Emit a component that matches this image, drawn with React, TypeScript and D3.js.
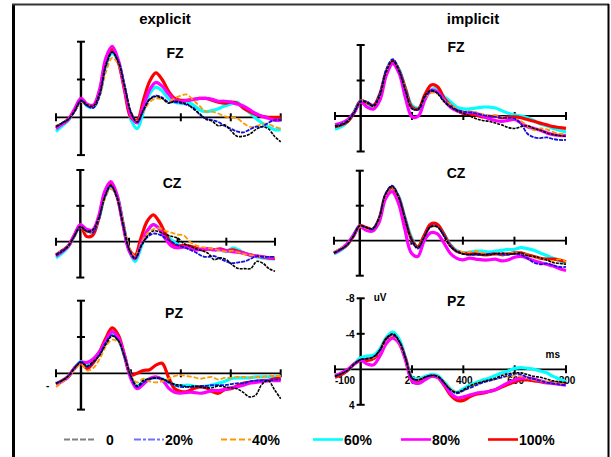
import React, { useEffect, useRef } from 'react';
import * as d3 from 'd3';

// time points (ms)
const times = [-100, -75, -50, -25, 0, 25, 50, 75, 100, 125, 150, 175, 200, 225, 250, 275, 300, 325, 350, 375, 400, 425, 450, 475, 500, 525, 550, 575, 600, 625, 650, 675, 700, 725, 750, 775, 800];
const conditions = ['0', '20%', '40%', '60%', '80%', '100%'];
const yTicks = [-8, -4, 4];
const xTicks = [-100, 200, 400, 600, 800];
const xTickLabels = ['-100', '200', '400', '600', '800'];
const yTickLabels = ['-8', '-4', '4'];

// explicit FZ (uV)
const exFz0 = [1.0, 0.6, 0.2, -0.7, -1.8, -1.3, -1.2, -2.6, -5.6, -6.9, -5.8, -3.2, -0.5, 0.5, -0.8, -1.9, -2.2, -2.0, -1.5, -1.7, -1.6, -1.4, -0.9, -0.4, 0.2, 0.4, 0.9, 0.8, 1.4, 2.0, 2.0, 1.8, 1.3, 1.0, 1.2, 2.0, 2.6];
const exFz20 = [1.0, 0.6, 0.2, -0.6, -1.7, -1.2, -1.0, -2.3, -5.4, -6.9, -5.9, -3.4, -0.6, 0.5, -0.7, -1.9, -2.3, -2.1, -1.6, -1.6, -1.5, -1.3, -1.0, -0.3, 0.1, 0.3, 0.5, 0.9, 1.2, 1.5, 1.6, 1.3, 1.0, 1.0, 0.6, 0.3, 0.3];
const exFz40 = [0.9, 0.6, 0.2, -0.6, -1.6, -1.3, -1.1, -2.2, -4.8, -6.3, -5.6, -3.3, -0.6, 0.4, -0.6, -1.6, -2.0, -1.9, -1.7, -2.0, -2.3, -2.4, -1.8, -1.2, -0.6, -0.6, -0.4, -0.1, 0.0, 0.1, 0.6, 1.0, 1.0, 0.7, 0.7, 1.0, 1.2];
const exFz60 = [1.5, 0.9, 0.3, -0.8, -1.9, -1.2, -1.1, -2.6, -5.6, -6.8, -5.9, -3.0, 0.2, 1.2, -0.6, -2.5, -3.2, -2.8, -2.0, -1.6, -1.5, -1.6, -1.3, -0.8, -0.6, -0.7, -0.9, -1.2, -1.4, -1.6, -1.0, -0.5, 0.1, 0.6, 1.0, 1.3, 1.3];
const exFz80 = [1.2, 0.7, 0.2, -0.9, -2.0, -1.4, -1.3, -3.0, -6.3, -7.5, -6.0, -3.0, -0.2, 0.6, -1.2, -2.9, -3.7, -3.3, -2.5, -1.8, -1.7, -1.8, -1.9, -2.0, -2.0, -1.9, -1.7, -1.7, -1.6, -1.4, -1.2, -0.8, -0.4, -0.1, 0.1, 0.3, 0.3];
const exFz100 = [1.0, 0.7, 0.2, -0.8, -1.9, -1.3, -1.2, -2.8, -6.0, -7.2, -5.8, -2.8, 0.0, 0.3, -1.8, -3.8, -4.7, -4.0, -2.8, -2.0, -1.8, -1.8, -1.9, -2.0, -2.0, -1.8, -1.6, -1.5, -1.6, -1.5, -1.0, -0.6, -0.3, -0.1, 0.0, 0.0, 0.0];

// implicit FZ
const imFz0 = [1.2, 1.0, 0.6, -0.4, -1.6, -1.5, -1.1, -2.3, -5.0, -6.2, -5.0, -2.8, -0.8, -0.8, -2.3, -2.9, -2.5, -1.6, -1.0, -0.6, -0.3, 0.0, 0.3, 0.5, 0.6, 0.8, 1.0, 1.3, 1.4, 1.2, 1.1, 1.4, 1.6, 1.9, 2.1, 2.2, 2.3];
const imFz20 = [1.1, 0.9, 0.5, -0.5, -1.7, -1.6, -1.2, -2.6, -5.3, -6.4, -5.2, -2.9, -0.9, -0.7, -2.1, -2.8, -2.6, -1.7, -1.1, -0.7, -0.5, -0.4, -0.3, -0.1, 0.0, 0.1, 0.2, 0.2, 0.3, 0.9, 2.0, 2.4, 2.5, 2.4, 2.6, 2.7, 2.7];
const imFz40 = [1.1, 0.9, 0.5, -0.5, -1.7, -1.5, -1.1, -2.4, -5.1, -6.3, -5.2, -3.0, -0.9, -0.7, -2.0, -2.6, -2.5, -1.8, -1.3, -0.8, -0.5, -0.5, -0.4, -0.2, -0.1, 0.0, 0.1, 0.2, 0.3, 0.6, 1.1, 1.6, 1.4, 1.5, 1.8, 2.0, 2.0];
const imFz60 = [1.5, 1.2, 0.6, -0.5, -1.7, -1.4, -1.0, -2.2, -4.9, -6.1, -5.2, -3.1, -1.2, -0.9, -2.0, -3.0, -3.0, -2.2, -1.6, -1.0, -0.8, -0.8, -0.9, -1.0, -1.0, -0.9, -0.6, -0.3, -0.1, 0.0, 0.2, 0.5, 0.9, 1.1, 1.4, 1.6, 1.8];
const imFz80 = [1.0, 0.8, 0.4, -0.4, -1.6, -1.0, -0.8, -1.8, -4.6, -5.9, -4.8, -2.0, 0.1, 0.0, -1.8, -2.9, -2.7, -1.8, -1.0, -0.6, -0.4, -0.4, -0.3, 0.0, 0.3, 0.5, 0.6, 0.5, 0.4, 0.8, 1.2, 1.4, 1.6, 1.9, 2.1, 2.2, 2.2];
const imFz100 = [1.2, 1.0, 0.6, -0.4, -1.7, -1.5, -1.2, -2.5, -5.0, -6.2, -5.1, -3.0, -1.0, -0.8, -2.4, -3.5, -3.3, -2.0, -1.2, -0.6, -0.3, -0.2, -0.1, 0.1, 0.1, 0.0, 0.2, 0.1, 0.1, 0.2, 0.4, 0.6, 0.8, 1.0, 1.2, 1.3, 1.4];

// explicit CZ
const exCz0 = [1.5, 1.1, 0.5, -0.6, -1.7, -1.2, -1.3, -2.6, -5.0, -6.3, -5.0, -2.0, 0.8, 1.9, 0.5, -0.6, -1.2, -1.1, -0.8, -0.6, -0.4, 0.2, 0.5, 0.8, 1.0, 1.3, 2.0, 1.8, 2.0, 2.6, 3.0, 3.0, 3.0, 2.2, 2.4, 3.0, 3.3];
const exCz20 = [1.4, 1.0, 0.5, -0.6, -1.6, -1.2, -1.0, -2.4, -4.9, -6.2, -5.0, -2.0, 0.8, 1.8, 0.4, -0.5, -0.9, -0.8, -0.4, 0.0, 0.4, 0.6, 0.9, 1.2, 1.6, 1.7, 1.6, 1.9, 2.2, 2.4, 2.3, 2.2, 1.9, 1.6, 1.7, 1.7, 1.7];
const exCz40 = [1.4, 1.0, 0.5, -0.5, -1.6, -1.1, -1.0, -2.3, -4.7, -5.9, -5.0, -2.3, 0.6, 1.6, 0.2, -0.9, -1.4, -1.5, -1.2, -1.0, -0.8, -0.7, 0.0, 0.4, 0.6, 0.7, 0.8, 1.0, 1.1, 1.0, 1.2, 1.4, 1.5, 1.6, 1.7, 1.7, 1.7];
const exCz60 = [1.8, 1.3, 0.6, -0.6, -1.8, -1.3, -1.2, -2.5, -5.0, -6.2, -5.2, -2.2, 0.9, 2.2, 0.6, -1.2, -1.9, -1.5, -0.8, -0.2, 0.3, 0.5, 0.6, 0.8, 0.9, 0.8, 0.9, 0.9, 1.1, 0.7, 0.9, 1.3, 1.5, 1.7, 1.8, 1.9, 1.9];
const exCz80 = [1.6, 1.1, 0.5, -0.7, -1.9, -1.4, -1.3, -2.8, -5.6, -6.7, -5.3, -2.0, 1.0, 1.9, 0.2, -1.2, -1.9, -1.4, -0.3, 0.5, 0.7, 0.6, 0.7, 0.9, 0.8, 0.8, 0.9, 0.9, 1.0, 1.1, 1.2, 1.3, 1.5, 1.6, 1.7, 1.8, 1.8];
const exCz100 = [1.5, 1.0, 0.5, -0.7, -1.8, -0.6, -0.7, -2.5, -5.4, -6.4, -5.1, -2.0, 0.8, 1.5, -0.5, -2.3, -3.0, -2.2, -0.9, 0.2, 0.5, 0.4, 0.5, 0.7, 0.9, 0.8, 0.9, 0.8, 1.0, 0.9, 1.1, 1.3, 1.5, 1.6, 1.7, 1.8, 1.9];

// implicit CZ
const imCz0 = [1.4, 1.0, 0.5, -0.5, -1.7, -1.5, -1.4, -2.6, -5.3, -6.2, -5.0, -2.5, -0.2, 0.8, -0.4, -1.6, -1.6, -0.6, 0.6, 1.2, 1.5, 1.6, 1.5, 1.6, 1.6, 1.5, 1.4, 1.5, 1.5, 1.4, 1.7, 1.8, 2.0, 2.2, 2.5, 2.6, 2.7];
const imCz20 = [1.4, 1.0, 0.5, -0.5, -1.7, -1.5, -1.3, -2.6, -5.4, -6.3, -5.1, -2.6, -0.1, 0.9, -0.4, -1.6, -1.6, -0.7, 0.5, 1.2, 1.5, 1.6, 1.6, 1.6, 1.5, 1.5, 1.6, 1.6, 1.5, 1.6, 2.0, 2.5, 2.7, 2.6, 2.8, 3.0, 3.0];
const imCz40 = [1.3, 0.9, 0.5, -0.5, -1.6, -1.4, -1.3, -2.5, -5.2, -6.1, -5.0, -2.5, -0.1, 0.8, -0.4, -1.5, -1.6, -0.7, 0.5, 1.1, 1.3, 1.3, 1.2, 1.4, 1.5, 1.6, 1.7, 1.5, 1.4, 1.5, 1.6, 1.9, 2.0, 2.2, 2.3, 2.1, 2.4];
const imCz60 = [1.5, 1.1, 0.5, -0.6, -1.7, -1.4, -1.3, -2.5, -5.1, -6.0, -5.1, -2.7, -0.4, 0.7, -0.6, -1.8, -1.8, -0.9, 0.4, 1.1, 1.4, 1.3, 1.2, 1.2, 1.3, 1.2, 1.1, 1.0, 1.0, 0.8, 0.9, 1.1, 1.4, 1.7, 2.0, 2.3, 2.6];
const imCz80 = [1.4, 1.0, 0.4, -0.6, -1.6, -1.2, -1.1, -2.1, -4.8, -5.6, -4.3, -1.3, 1.4, 1.8, 0.0, -0.9, -0.8, 0.2, 1.4, 2.0, 2.2, 2.0, 2.1, 2.2, 2.2, 2.1, 2.3, 2.2, 1.9, 1.8, 2.0, 2.3, 2.5, 2.7, 2.9, 3.2, 3.4];
const imCz100 = [1.4, 1.0, 0.5, -0.5, -1.7, -1.5, -1.3, -2.5, -5.2, -6.1, -5.0, -2.5, -0.2, 0.7, -0.6, -1.9, -1.9, -0.8, 0.5, 1.2, 1.4, 1.5, 1.5, 1.6, 1.6, 1.5, 1.6, 1.5, 1.4, 1.4, 1.6, 1.8, 2.0, 2.1, 2.1, 2.2, 2.4];

// explicit PZ
const exPz0 = [1.1, 0.8, 0.3, -0.6, -1.2, -0.8, -1.3, -2.0, -3.2, -4.1, -3.6, -1.8, 0.3, 1.4, 0.8, 0.6, 0.5, 0.6, 0.9, 1.2, 1.3, 1.5, 1.4, 1.5, 1.6, 1.6, 1.4, 1.5, 1.6, 1.7, 2.1, 2.6, 2.4, 1.2, 0.8, 1.8, 2.8];
const exPz20 = [1.1, 0.8, 0.3, -0.6, -1.3, -0.7, -1.2, -2.1, -3.4, -4.2, -3.6, -1.8, 0.4, 1.5, 1.0, 0.6, 0.5, 0.6, 1.0, 1.3, 1.5, 1.5, 1.5, 1.4, 1.4, 1.3, 1.3, 1.3, 1.2, 1.1, 1.1, 0.9, 0.8, 0.8, 0.8, 0.7, 0.7];
const exPz40 = [1.5, 1.0, 0.4, -0.4, -1.0, -0.3, -0.6, -1.6, -3.0, -3.7, -3.4, -1.8, 0.3, 1.0, 0.6, 0.9, 1.0, 0.9, 0.6, 0.3, 0.2, 0.3, 0.4, 0.6, 0.5, 0.4, 0.7, 0.5, 0.5, 0.4, 0.4, 0.5, 0.4, 0.4, 0.3, 0.3, 0.3];
const exPz60 = [1.1, 0.8, 0.3, -0.6, -1.3, -0.9, -1.5, -2.3, -3.5, -4.3, -3.7, -1.8, 0.4, 1.4, 0.9, 0.6, 0.5, 0.6, 1.0, 1.3, 1.4, 1.3, 1.4, 1.5, 1.4, 1.3, 1.1, 0.9, 0.6, 0.5, 0.5, 0.5, 0.4, 0.4, 0.4, 0.4, 0.3];
const exPz80 = [1.2, 0.9, 0.4, -0.6, -1.2, -1.2, -1.6, -2.4, -3.6, -4.6, -3.9, -1.9, 0.6, 1.7, 1.2, 0.6, 0.4, 0.7, 1.6, 2.1, 2.2, 2.1, 2.1, 2.2, 2.1, 1.9, 1.9, 1.8, 1.6, 1.5, 1.3, 1.1, 1.0, 0.9, 0.8, 0.8, 0.8];
const exPz100 = [1.2, 0.8, 0.3, -0.6, -1.1, -0.5, -1.2, -2.4, -3.9, -5.0, -4.2, -1.9, 0.2, 0.0, -0.3, -0.4, -0.9, -1.1, 0.4, 1.7, 2.0, 2.0, 1.7, 1.5, 1.6, 2.0, 2.2, 1.8, 1.7, 1.4, 1.1, 1.0, 0.9, 0.8, 0.8, 0.6, 0.5];

// implicit PZ
const imPz0 = [0.8, 0.5, 0.1, -0.6, -1.1, -1.2, -1.4, -2.2, -3.5, -4.0, -3.2, -1.2, 1.0, 1.2, 0.9, 0.7, 0.8, 1.5, 2.3, 2.6, 2.3, 1.9, 1.6, 1.4, 1.2, 1.0, 0.7, 0.5, 0.4, 0.4, 0.6, 0.8, 0.9, 1.1, 1.3, 1.4, 1.5];
const imPz20 = [0.8, 0.5, 0.1, -0.6, -1.1, -1.2, -1.4, -2.1, -3.4, -3.9, -3.1, -1.2, 1.0, 1.2, 0.9, 0.7, 0.8, 1.5, 2.3, 2.7, 2.4, 2.1, 1.8, 1.5, 1.3, 1.1, 0.9, 0.7, 0.5, 0.6, 0.9, 1.1, 1.3, 1.5, 1.6, 1.7, 1.8];
const imPz40 = [0.8, 0.5, 0.1, -0.6, -1.1, -1.2, -1.3, -2.0, -3.3, -3.8, -3.0, -1.1, 1.0, 1.2, 0.9, 0.7, 0.8, 1.4, 2.2, 2.6, 2.4, 2.0, 1.7, 1.4, 1.3, 1.1, 0.9, 0.8, 0.7, 0.8, 1.0, 1.2, 1.3, 1.4, 1.5, 1.6, 1.6];
const imPz60 = [0.9, 0.5, 0.1, -0.6, -1.3, -1.5, -1.6, -2.3, -3.6, -4.2, -3.4, -1.3, 0.9, 1.1, 0.8, 0.6, 0.7, 1.4, 2.2, 2.6, 2.2, 1.8, 1.5, 1.2, 1.0, 0.7, 0.4, 0.2, -0.1, -0.2, -0.1, 0.0, 0.2, 0.4, 0.8, 1.1, 1.4];
const imPz80 = [0.7, 0.4, 0.0, -0.6, -1.0, -0.6, -0.5, -1.5, -2.9, -3.5, -2.9, -1.0, 1.3, 1.6, 1.2, 0.8, 0.9, 1.7, 2.7, 3.2, 3.1, 2.9, 2.7, 2.6, 2.5, 2.3, 1.9, 1.5, 1.2, 1.0, 1.0, 1.1, 1.3, 1.5, 1.6, 1.7, 1.8];
const imPz100 = [0.9, 0.6, 0.1, -0.6, -1.0, -1.0, -1.2, -2.0, -3.4, -3.8, -3.0, -1.2, 1.1, 1.3, 1.0, 0.8, 0.9, 1.8, 2.9, 3.5, 3.5, 3.1, 2.8, 2.7, 2.5, 2.3, 2.0, 1.7, 1.4, 1.2, 1.2, 1.3, 1.4, 1.5, 1.5, 1.6, 1.6];

const panels = [
  { label: 'FZ', series: [exFz0, exFz20, exFz40, exFz60, exFz80, exFz100], x0: 56, x1: 280.7, top: 41.7, zero: 117.3, lx: 175, ly: 58, labels: false },
  { label: 'FZ', series: [imFz0, imFz20, imFz40, imFz60, imFz80, imFz100], x0: 335, x1: 566, top: 45, zero: 116, lx: 456, ly: 52, labels: false },
  { label: 'CZ', series: [exCz0, exCz20, exCz40, exCz60, exCz80, exCz100], x0: 56, x1: 275, top: 170, zero: 241.7, lx: 172, ly: 188, labels: false },
  { label: 'CZ', series: [imCz0, imCz20, imCz40, imCz60, imCz80, imCz100], x0: 334, x1: 566, top: 170.7, zero: 240.7, lx: 456, ly: 178, labels: false },
  { label: 'PZ', series: [exPz0, exPz20, exPz40, exPz60, exPz80, exPz100], x0: 56, x1: 280.7, top: 300.7, zero: 373.3, lx: 174, ly: 318, labels: false },
  { label: 'PZ', series: [imPz0, imPz20, imPz40, imPz60, imPz80, imPz100], x0: 335, x1: 566, top: 298.3, zero: 369.3, lx: 456, ly: 306, labels: true },
];

const colors = ['#000000', '#1010e0', '#ff9900', '#00ffff', '#ff00ff', '#ff0000'];
const widths = [1.6, 1.8, 1.8, 3.2, 3.2, 3.2];
const dashes = ['3,1', '4,1', '5,2', null, null, null];
const drawOrder = [3, 5, 4, 2, 1, 0];
const legendColors = ['#808080', '#7070ff', '#ff9900', '#00ffff', '#ff00ff', '#ff0000'];
const legendDash = ['6,2', '7,2,3,2', '6,3', null, null, null];
const font = '"Liberation Sans", Arial, sans-serif';

export default function App() {
  const ref = useRef<SVGSVGElement>(null);

  useEffect(() => {
    const svg = d3.select(ref.current);
    svg.selectAll('*').remove();

    // frame
    svg.append('line').attr('x1', 13.5).attr('x2', 13.5).attr('y1', 4).attr('y2', 457)
      .attr('stroke', '#000').attr('stroke-width', 3);
    svg.append('line').attr('x1', 12).attr('x2', 609).attr('y1', 4.5).attr('y2', 4.5)
      .attr('stroke', '#333').attr('stroke-width', 2);
    svg.append('line').attr('x1', 608.5).attr('x2', 608.5).attr('y1', 4).attr('y2', 457)
      .attr('stroke', '#000').attr('stroke-width', 2);

    // column titles
    const titles = svg.append('g').attr('font-family', font).attr('font-weight', 'bold')
      .attr('font-size', 15).attr('text-anchor', 'middle');
    titles.append('text').attr('x', 165).attr('y', 24).text('explicit');
    titles.append('text').attr('x', 473).attr('y', 24).text('implicit');

    panels.forEach(p => {
      const x = d3.scaleLinear().domain([-100, 800]).range([p.x0, p.x1]);
      const y = d3.scaleLinear().domain([-8, 0]).range([p.top, p.zero]);
      const g = svg.append('g');

      // axes
      g.append('line').attr('x1', x(-100)).attr('x2', x(800)).attr('y1', y(0)).attr('y2', y(0))
        .attr('stroke', '#000').attr('stroke-width', 1.8);
      g.selectAll('.xt').data(xTicks).enter().append('line')
        .attr('x1', d => x(d)).attr('x2', d => x(d))
        .attr('y1', y(0) - 4).attr('y2', y(0) + 4)
        .attr('stroke', '#000').attr('stroke-width', 2);
      g.append('line').attr('x1', x(0)).attr('x2', x(0)).attr('y1', y(-8)).attr('y2', y(4))
        .attr('stroke', '#000').attr('stroke-width', 2.4);
      g.selectAll('.yt').data(yTicks).enter().append('line')
        .attr('x1', x(0) - 4).attr('x2', x(0) + 4)
        .attr('y1', d => y(d)).attr('y2', d => y(d))
        .attr('stroke', '#000').attr('stroke-width', 2);

      if (p.labels) {
        const lg = g.append('g').attr('font-family', font).attr('font-weight', 'bold').attr('font-size', 10);
        lg.selectAll('.yl').data(yTicks).enter().append('text')
          .attr('x', x(0) - 6).attr('y', d => y(d) + 4).attr('text-anchor', 'end')
          .text((d, i) => yTickLabels[i]);
        lg.selectAll('.xl').data(xTicks).enter().append('text')
          .attr('x', (d, i) => x(d) + (i === 0 ? 10 : 1)).attr('y', y(0) + 15).attr('text-anchor', 'middle')
          .text((d, i) => xTickLabels[i]);
        lg.append('text').attr('x', x(0) + 13).attr('y', y(-8) + 3).text('uV');
        lg.append('text').attr('x', x(800) - 6).attr('y', y(-1.3)).attr('text-anchor', 'end').text('ms');
      }

      // waves
      const line = d3.line<number>()
        .x((d, i) => x(times[i]))
        .y(d => y(d))
        .curve(d3.curveCatmullRom.alpha(0.5));
      drawOrder.forEach(k => {
        g.append('path')
          .attr('d', line(p.series[k]))
          .attr('fill', 'none')
          .attr('stroke', colors[k])
          .attr('stroke-width', widths[k])
          .attr('stroke-dasharray', dashes[k])
          .attr('stroke-linejoin', 'round');
      });

      g.append('text').attr('x', p.lx).attr('y', p.ly)
        .attr('font-family', font).attr('font-weight', 'bold').attr('font-size', 14)
        .attr('text-anchor', 'middle').text(p.label);
    });

    // leftover label of explicit PZ
    svg.append('text').attr('x', 46).attr('y', 389).attr('font-family', font)
      .attr('font-weight', 'bold').attr('font-size', 10).text('-');

    // legend
    const legendX = [64, 134, 221, 313, 401, 488];
    const leg = svg.append('g');
    conditions.forEach((c, i) => {
      leg.append('line').attr('x1', legendX[i]).attr('x2', legendX[i] + 30)
        .attr('y1', 439.5).attr('y2', 439.5)
        .attr('stroke', legendColors[i]).attr('stroke-width', i < 3 ? 2.2 : 2.6)
        .attr('stroke-dasharray', legendDash[i]);
      leg.append('text').attr('x', legendX[i] + (i === 0 ? 42 : 31)).attr('y', 445)
        .attr('font-family', font).attr('font-weight', 'bold').attr('font-size', 14)
        .text(c);
    });
  }, []);

  return (
    <svg ref={ref} width={611} height={457}
      style={{ position: 'absolute', left: 0, top: 0, background: '#fff' }} />
  );
}
